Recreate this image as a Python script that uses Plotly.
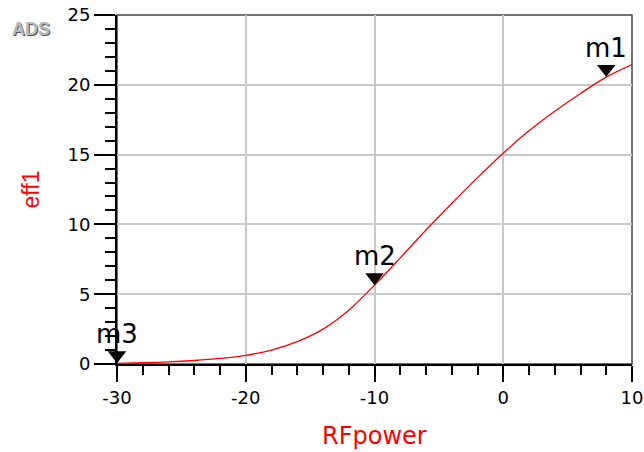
import plotly.graph_objects as go

# ---- data ----
rf_power = [-30, -28, -26, -24, -22, -20, -18, -16, -14, -12, -10,
            -8, -6, -4, -2, 0, 2, 4, 6, 8, 10]
eff1 = [0.05, 0.09, 0.15, 0.25, 0.40, 0.62, 1.0, 1.6, 2.5, 3.85, 5.65,
        7.6, 9.6, 11.5, 13.35, 15.1, 16.7, 18.1, 19.38, 20.55, 21.45]
marker_names = ["m1", "m2", "m3"]
marker_x = [8, -10, -30]
marker_y = [20.55, 5.65, 0.05]
x_range = [-30, 10]
y_range = [0, 25]
x_tickvals = [-30, -20, -10, 0, 10]
x_ticktext = ["-30", "-20", "-10", "0", "10"]
y_tickvals = [0, 5, 10, 15, 20, 25]
y_ticktext = ["0", "5", "10", "15", "20", "25"]

W, H = 644, 452
ML, MR, MT, MB = 117, 12, 15, 88
plot_w = W - ML - MR
plot_h = H - MT - MB
px_per_unit = plot_h / (y_range[1] - y_range[0])
MSIZE = 16
tri_offset = (MSIZE / 2) / px_per_unit  # tip of triangle sits on the curve

tick_font = dict(family="DejaVu Sans", size=18, color="black")

fig = go.Figure()
fig.add_trace(go.Scatter(
    x=rf_power, y=eff1, mode="lines",
    line=dict(color="#ff0000", width=1.3, shape="spline", smoothing=1),
    hoverinfo="skip", showlegend=False))
fig.add_trace(go.Scatter(
    x=marker_x, y=[v + tri_offset for v in marker_y], mode="markers",
    marker=dict(symbol="triangle-down", size=MSIZE, color="black",
                line=dict(width=0)),
    cliponaxis=False, showlegend=False, hoverinfo="skip"))

annotations = []
for name, mx, my in zip(marker_names, marker_x, marker_y):
    annotations.append(dict(
        x=mx, y=my, xref="x", yref="y", text=name, showarrow=False,
        yanchor="bottom", xanchor="center", yshift=12,
        font=dict(family="DejaVu Sans", size=26, color="black")))

annotations += [
    dict(x=0.5, y=(H - MB - 436) / plot_h, xref="paper", yref="paper",
         text="RFpower", showarrow=False, xanchor="center", yanchor="middle",
         font=dict(family="DejaVu Sans", size=24, color="#ff0000")),
    dict(x=(30 - ML) / plot_w, y=0.5, xref="paper", yref="paper",
         text="eff1", textangle=-90, showarrow=False,
         xanchor="center", yanchor="middle",
         font=dict(family="Liberation Sans", size=23, color="#ff0000")),
    dict(x=(31 - ML) / plot_w, y=(H - MB - 29) / plot_h,
         xref="paper", yref="paper", text="<b>ADS</b>", showarrow=False,
         xanchor="center", yanchor="middle",
         font=dict(family="Liberation Sans", size=18, color="#b8b8b8",
                   shadow="1px 1px 0px #555555")),
]

fig.update_layout(
    width=W, height=H,
    margin=dict(l=ML, r=MR, t=MT, b=MB, autoexpand=False),
    paper_bgcolor="white", plot_bgcolor="white",
    annotations=annotations,
    shapes=[dict(type="rect", xref="paper", yref="paper", x0=0, x1=1,
                 y0=0, y1=1, line=dict(color="#444444", width=1.5),
                 layer="below")],
)
fig.update_xaxes(
    range=x_range, tickmode="array", tickvals=x_tickvals,
    ticktext=x_ticktext, ticks="outside", ticklen=16, automargin=False,
    tickwidth=1.5, tickcolor="black", showline=True, linecolor="black",
    linewidth=2, showgrid=True, gridcolor="#c8c8c8", gridwidth=1.5,
    zeroline=False, tickfont=tick_font, ticklabelstandoff=0,
    minor=dict(tickmode="linear", tick0=-30, dtick=2, ticks="outside",
               ticklen=9, tickwidth=1.5, tickcolor="black", showgrid=False))
fig.update_yaxes(
    range=y_range, tickmode="array", tickvals=y_tickvals,
    ticktext=y_ticktext, ticks="outside", ticklen=21, automargin=False,
    tickwidth=1.5, tickcolor="black", showline=True, linecolor="black",
    linewidth=2, showgrid=True, gridcolor="#c8c8c8", gridwidth=1.5,
    zeroline=False, tickfont=tick_font,
    minor=dict(tickmode="linear", tick0=0, dtick=1, ticks="outside",
               ticklen=10, tickwidth=1.5, tickcolor="black", showgrid=False))

fig.write_html("out.html")
